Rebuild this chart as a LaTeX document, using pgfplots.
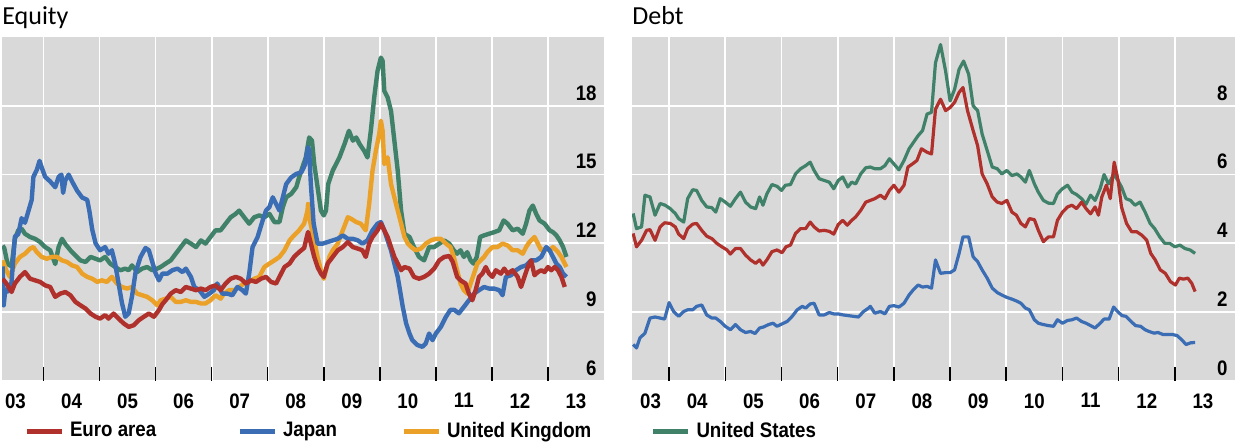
\documentclass[border=0pt]{standalone}
\usepackage{pgfplots}
\pgfplotsset{compat=1.18}
\usepackage{fontspec}
\setmainfont{Liberation Sans}
\newfontfamily\tickfont[FakeStretch=0.89]{Liberation Sans}
\newfontfamily\titlefont{Carlito}
\newcommand\tlfont{\tickfont\bfseries\fontsize{10.5}{12}\selectfont}
\definecolor{eured}{HTML}{B0302C}
\definecolor{jpblue}{HTML}{3B6DB4}
\definecolor{ukorange}{HTML}{EBA127}
\definecolor{usgreen}{HTML}{3F8169}
\definecolor{panelgrey}{HTML}{D9D9D9}
\pgfplotsset{
  panel/.style={
    scale only axis, height=172pt,
    axis background/.style={fill=panelgrey},
    axis line style={draw=none},
    xtick={2004,...,2013}, xticklabels={},
    xmajorgrids, ymajorgrids,
    grid style={white, line width=0.9pt},
    tick align=inside, xtick pos=left,
    major tick length=0pt,
    xtick style={draw=none},
    ytick style={draw=none},
    tick label style={font=\tlfont},
    xticklabel style={anchor=north, inner sep=0pt, yshift=-6pt},
    yticklabel pos=right,
    yticklabel style={anchor=south east, inner sep=0pt, xshift=-3.5pt, yshift=2.5pt},
    extra x tick style={grid=none, major tick length=0pt, tick style={draw=none}},
    every axis title/.style={at={(0,1)}, anchor=base west, yshift=6pt, inner sep=0pt, font=\titlefont\fontsize{13}{15}\selectfont},
  },
  eq/.style={line width=2.2pt, line join=round},
  dt/.style={line width=1.6pt, line join=round},
  yearticks/.style={ycomb, black, line width=0.8pt, no marks, forget plot},
}
\begin{document}
\begin{tikzpicture}
\begin{axis}[panel, at={(1pt,31.5pt)}, anchor=south west, width=301pt,
  xmin=2003.26, xmax=2014.0, ymin=6, ymax=21,
  ytick={6,9,12,15,18}, yticklabels={6,9,12,15,18},
  extra x ticks={2003.5,2004.5,2005.5,2006.5,2007.5,2008.5,2009.5,2010.5,2011.5,2012.5,2013.5},
  extra x tick labels={03,04,05,06,07,08,09,10,11,12,13},
  title={Equity},
  legend columns=4,
  legend style={at={(0,0)}, anchor=west, xshift=11pt, yshift=-25pt, draw=none, fill=none,
    inner sep=0pt, outer sep=0pt, column sep=0pt, row sep=0pt, font=\tlfont,
    nodes={inner sep=0pt, outer sep=0pt}},
  legend cell align=left,
  legend image code/.code={\draw[line width=2.5pt] (0pt,0pt) -- (17.5pt,0pt);},
]
\addlegendimage{eured}
\addlegendentry{\hspace{3pt}\makebox[83.5pt][l]{Euro area}}
\addlegendimage{jpblue}
\addlegendentry{\hspace{3pt}\makebox[59pt][l]{Japan}}
\addlegendimage{ukorange}
\addlegendentry{\hspace{3pt}\makebox[101.75pt][l]{United Kingdom}}
\addlegendimage{usgreen}
\addlegendentry{\hspace{3pt}United States}
% year tick marks at the bottom of the panel
\addplot[yearticks] coordinates {(2004,6.61)(2005,6.61)(2006,6.61)(2007,6.61)(2008,6.61)(2009,6.61)(2010,6.61)(2011,6.61)(2012,6.61)(2013,6.61)};
% United States
\addplot[eq, usgreen, forget plot] coordinates {
(2003.27,11.9)(2003.30,11.8)(2003.36,11.1)(2003.43,11.0)(2003.49,12.2)(2003.55,12.57)(2003.61,12.64)(2003.67,12.42)(2003.76,12.28)(2003.85,12.2)(2003.94,12.06)(2004.03,11.84)(2004.12,11.70)(2004.21,11.1)(2004.27,11.84)(2004.33,12.2)(2004.39,11.97)(2004.48,11.70)(2004.57,11.48)(2004.66,11.26)(2004.75,11.19)(2004.84,11.41)(2004.93,11.33)(2005.01,11.26)(2005.10,11.41)(2005.19,11.12)(2005.28,10.97)(2005.37,10.83)(2005.46,10.90)(2005.52,10.83)(2005.58,11.04)(2005.67,10.75)(2005.76,10.90)(2005.85,10.97)(2005.94,10.83)(2006.03,10.90)(2006.09,10.97)(2006.18,11.12)(2006.27,11.26)(2006.36,11.55)(2006.45,11.84)(2006.54,12.13)(2006.63,11.99)(2006.72,11.84)(2006.81,12.13)(2006.89,11.99)(2006.98,12.28)(2007.07,12.57)(2007.16,12.57)(2007.25,12.86)(2007.34,13.14)(2007.43,13.29)(2007.49,13.43)(2007.58,13.14)(2007.67,12.86)(2007.76,13.14)(2007.85,13.22)(2007.94,13.14)(2008.03,13.29)(2008.12,12.93)(2008.21,12.93)(2008.27,13.58)(2008.33,14.01)(2008.42,14.16)(2008.51,14.45)(2008.56,14.88)(2008.62,15.32)(2008.68,15.75)(2008.74,16.62)(2008.79,16.48)(2008.83,15.46)(2008.89,14.45)(2008.95,13.43)(2009.00,13.22)(2009.04,13.43)(2009.08,14.59)(2009.16,15.17)(2009.22,15.46)(2009.28,15.75)(2009.37,16.33)(2009.45,16.91)(2009.52,16.48)(2009.58,16.62)(2009.64,16.33)(2009.72,16.04)(2009.78,15.75)(2009.84,16.91)(2009.90,18.36)(2009.96,19.52)(2010.02,20.1)(2010.05,19.96)(2010.08,18.65)(2010.14,18.36)(2010.20,17.78)(2010.26,16.48)(2010.32,15.17)(2010.38,13.43)(2010.44,12.42)(2010.53,12.28)(2010.61,11.84)(2010.70,11.41)(2010.79,11.26)(2010.88,11.84)(2010.97,11.84)(2011.06,11.99)(2011.15,12.13)(2011.24,11.99)(2011.32,11.70)(2011.38,11.55)(2011.44,11.70)(2011.50,11.41)(2011.56,11.62)(2011.62,11.26)(2011.67,11.12)(2011.73,11.41)(2011.79,12.28)(2011.86,12.35)(2011.95,12.42)(2012.04,12.49)(2012.13,12.57)(2012.21,13.0)(2012.28,12.86)(2012.37,12.57)(2012.46,12.64)(2012.55,12.42)(2012.61,12.86)(2012.67,13.43)(2012.73,13.65)(2012.79,13.29)(2012.85,13.0)(2012.94,12.86)(2013.03,12.57)(2013.09,12.49)(2013.15,12.35)(2013.21,12.13)(2013.27,11.84)(2013.33,11.41)
};
% United Kingdom
\addplot[eq, ukorange, forget plot] coordinates {
(2003.27,11.26)(2003.34,10.8)(2003.40,10.54)(2003.49,11.12)(2003.58,11.41)(2003.67,11.55)(2003.76,11.77)(2003.82,11.84)(2003.88,11.62)(2003.97,11.41)(2004.06,11.33)(2004.15,11.41)(2004.24,11.41)(2004.33,11.26)(2004.42,11.19)(2004.51,11.04)(2004.60,10.97)(2004.69,10.68)(2004.78,10.54)(2004.87,10.46)(2004.96,10.32)(2005.04,10.39)(2005.13,10.32)(2005.22,10.54)(2005.31,10.25)(2005.40,10.10)(2005.49,10.03)(2005.58,10.10)(2005.67,9.81)(2005.76,9.74)(2005.85,9.67)(2005.94,9.52)(2006.03,9.30)(2006.09,9.52)(2006.18,9.59)(2006.27,9.67)(2006.36,9.45)(2006.45,9.45)(2006.54,9.52)(2006.63,9.45)(2006.72,9.45)(2006.81,9.38)(2006.89,9.38)(2006.98,9.52)(2007.07,9.74)(2007.16,9.59)(2007.22,9.81)(2007.31,9.96)(2007.40,9.96)(2007.49,10.10)(2007.58,10.25)(2007.67,10.32)(2007.76,10.46)(2007.85,10.54)(2007.94,10.97)(2008.03,11.12)(2008.12,11.26)(2008.21,11.41)(2008.30,11.70)(2008.39,12.13)(2008.47,12.35)(2008.56,12.57)(2008.65,12.86)(2008.71,13.43)(2008.72,13.72)(2008.74,13.14)(2008.79,12.57)(2008.83,12.13)(2008.89,11.41)(2008.95,10.83)(2009.00,10.46)(2009.04,10.83)(2009.10,11.41)(2009.16,11.70)(2009.25,11.99)(2009.34,12.57)(2009.43,13.14)(2009.49,13.07)(2009.58,12.93)(2009.66,12.86)(2009.75,12.57)(2009.81,13.72)(2009.87,15.17)(2009.93,16.04)(2009.99,16.77)(2010.02,17.35)(2010.05,16.91)(2010.08,15.46)(2010.14,15.75)(2010.20,14.59)(2010.26,14.01)(2010.32,13.43)(2010.38,12.86)(2010.44,12.28)(2010.50,11.99)(2010.56,11.84)(2010.64,11.70)(2010.73,11.77)(2010.82,11.99)(2010.91,12.13)(2011.00,12.20)(2011.09,12.20)(2011.18,11.99)(2011.26,11.84)(2011.32,11.41)(2011.38,10.83)(2011.44,10.25)(2011.50,9.96)(2011.56,9.81)(2011.62,10.25)(2011.68,10.68)(2011.74,11.12)(2011.80,11.26)(2011.86,11.41)(2011.92,11.62)(2012.01,11.84)(2012.10,11.84)(2012.19,11.99)(2012.28,11.91)(2012.37,11.70)(2012.46,11.70)(2012.55,11.55)(2012.61,11.84)(2012.67,12.06)(2012.76,12.28)(2012.82,11.99)(2012.88,11.70)(2012.97,11.77)(2013.03,11.70)(2013.09,11.84)(2013.18,11.62)(2013.24,11.41)(2013.33,10.97)
};
% Japan
\addplot[eq, jpblue, forget plot] coordinates {
(2003.27,11.0)(2003.29,9.3)(2003.32,10.0)(2003.36,9.9)(2003.43,10.3)(2003.49,12.3)(2003.55,12.4)(2003.61,13.1)(2003.67,12.9)(2003.73,13.4)(2003.79,13.9)(2003.82,14.9)(2003.88,15.2)(2003.93,15.6)(2003.97,15.3)(2004.03,14.9)(2004.12,14.7)(2004.21,14.45)(2004.27,14.9)(2004.32,15.0)(2004.35,14.2)(2004.39,14.75)(2004.45,15.0)(2004.51,14.7)(2004.60,14.3)(2004.69,14.0)(2004.78,13.9)(2004.82,13.4)(2004.87,12.6)(2004.93,12.0)(2005.01,11.7)(2005.10,11.84)(2005.16,11.55)(2005.22,11.7)(2005.28,11.1)(2005.34,10.25)(2005.40,9.4)(2005.46,8.8)(2005.52,8.95)(2005.58,9.7)(2005.64,10.7)(2005.73,11.4)(2005.82,11.8)(2005.88,11.7)(2005.94,11.2)(2006.00,10.7)(2006.06,10.39)(2006.12,10.68)(2006.21,10.68)(2006.30,10.83)(2006.39,10.90)(2006.48,10.75)(2006.54,10.90)(2006.63,10.54)(2006.69,10.10)(2006.78,9.96)(2006.87,9.67)(2006.96,9.81)(2007.04,9.96)(2007.10,10.25)(2007.19,9.81)(2007.28,9.81)(2007.37,9.74)(2007.46,10.10)(2007.55,9.96)(2007.61,9.81)(2007.67,10.68)(2007.73,11.84)(2007.82,12.28)(2007.91,13.0)(2007.97,13.43)(2008.03,13.58)(2008.09,14.01)(2008.15,13.72)(2008.21,13.43)(2008.27,14.01)(2008.33,14.59)(2008.42,14.88)(2008.51,15.03)(2008.60,15.10)(2008.66,15.40)(2008.72,16.19)(2008.74,16.04)(2008.77,14.59)(2008.82,12.86)(2008.89,11.99)(2008.98,11.99)(2009.07,12.06)(2009.16,12.13)(2009.25,12.20)(2009.34,12.35)(2009.43,12.20)(2009.52,12.20)(2009.61,12.13)(2009.69,11.99)(2009.78,12.13)(2009.87,12.57)(2009.96,12.86)(2010.02,12.93)(2010.08,12.57)(2010.14,12.13)(2010.20,11.70)(2010.26,11.12)(2010.32,10.54)(2010.36,9.96)(2010.41,9.23)(2010.47,8.51)(2010.53,8.07)(2010.58,7.78)(2010.67,7.57)(2010.76,7.49)(2010.82,7.64)(2010.88,8.07)(2010.94,7.78)(2011.00,8.07)(2011.09,8.36)(2011.18,8.80)(2011.26,9.10)(2011.33,9.10)(2011.41,8.95)(2011.50,9.23)(2011.59,9.52)(2011.68,9.81)(2011.77,9.96)(2011.86,10.10)(2011.95,10.03)(2012.04,10.03)(2012.13,9.96)(2012.19,9.74)(2012.25,10.54)(2012.34,10.61)(2012.43,10.83)(2012.52,10.97)(2012.61,11.04)(2012.70,11.26)(2012.79,11.26)(2012.88,11.41)(2012.97,11.84)(2013.03,11.70)(2013.09,11.41)(2013.15,11.12)(2013.21,10.97)(2013.27,10.68)(2013.33,10.54)
};
% Euro area
\addplot[eq, eured, forget plot] coordinates {
(2003.27,10.46)(2003.34,10.25)(2003.43,9.88)(2003.49,10.25)(2003.58,10.54)(2003.67,10.75)(2003.76,10.46)(2003.85,10.39)(2003.94,10.32)(2004.03,10.17)(2004.12,10.10)(2004.21,9.67)(2004.30,9.81)(2004.39,9.88)(2004.48,9.74)(2004.57,9.45)(2004.66,9.30)(2004.75,9.16)(2004.84,8.94)(2004.93,8.80)(2005.01,8.72)(2005.10,8.87)(2005.16,8.72)(2005.25,8.94)(2005.34,8.72)(2005.43,8.51)(2005.52,8.36)(2005.61,8.43)(2005.70,8.65)(2005.79,8.80)(2005.88,8.94)(2005.97,8.80)(2006.06,9.09)(2006.12,9.35)(2006.18,9.52)(2006.27,9.81)(2006.36,9.96)(2006.45,9.88)(2006.54,10.10)(2006.63,10.03)(2006.72,9.96)(2006.81,10.03)(2006.89,9.96)(2006.98,10.10)(2007.07,10.17)(2007.16,9.96)(2007.25,10.25)(2007.34,10.46)(2007.43,10.54)(2007.52,10.46)(2007.61,10.25)(2007.70,10.39)(2007.79,10.32)(2007.88,10.46)(2007.97,10.54)(2008.06,10.32)(2008.15,10.25)(2008.21,10.54)(2008.30,10.97)(2008.39,11.12)(2008.47,11.41)(2008.56,11.62)(2008.65,11.80)(2008.72,12.50)(2008.77,12.0)(2008.83,11.41)(2008.89,10.97)(2008.95,10.68)(2009.00,10.54)(2009.07,11.12)(2009.16,11.41)(2009.25,11.70)(2009.34,11.84)(2009.43,12.06)(2009.52,11.84)(2009.61,11.77)(2009.69,11.70)(2009.75,11.41)(2009.81,11.99)(2009.87,12.28)(2009.96,12.57)(2010.02,12.86)(2010.08,12.57)(2010.14,12.28)(2010.20,11.84)(2010.26,11.41)(2010.32,11.12)(2010.38,10.83)(2010.44,10.97)(2010.53,10.90)(2010.61,10.54)(2010.70,10.46)(2010.79,10.54)(2010.88,10.68)(2010.97,10.90)(2011.06,11.26)(2011.15,11.41)(2011.24,11.45)(2011.30,11.20)(2011.38,10.54)(2011.44,10.39)(2011.53,10.25)(2011.59,9.81)(2011.65,9.52)(2011.71,9.96)(2011.77,10.54)(2011.83,10.68)(2011.89,10.97)(2011.95,10.68)(2012.01,10.54)(2012.07,10.83)(2012.16,10.68)(2012.22,10.90)(2012.28,10.68)(2012.37,10.83)(2012.46,10.54)(2012.52,10.10)(2012.58,10.54)(2012.64,10.97)(2012.70,11.26)(2012.76,10.61)(2012.82,10.75)(2012.88,10.83)(2012.94,10.75)(2013.00,10.97)(2013.06,10.83)(2013.12,10.97)(2013.18,10.83)(2013.24,10.54)(2013.30,10.10)
};
\end{axis}
\begin{axis}[panel, at={(316pt,31.5pt)}, anchor=south west, width=301.5pt,
  xmin=2003.34, xmax=2014.07, ymin=0, ymax=10,
  ytick={0,2,4,6,8}, yticklabels={0,2,4,6,8},
  extra x ticks={2003.67,2004.5,2005.5,2006.5,2007.5,2008.5,2009.5,2010.5,2011.5,2012.5,2013.5},
  extra x tick labels={03,04,05,06,07,08,09,10,11,12,13},
  title={Debt},
]
\addplot[yearticks] coordinates {(2004,0.41)(2005,0.41)(2006,0.41)(2007,0.41)(2008,0.41)(2009,0.41)(2010,0.41)(2011,0.41)(2012,0.41)(2013,0.41)};
% United States
\addplot[dt, usgreen] coordinates {
(2003.36,4.87)(2003.42,4.43)(2003.51,4.48)(2003.57,5.40)(2003.66,5.35)(2003.75,4.82)(2003.84,5.16)(2003.93,5.11)(2004.02,5.01)(2004.11,4.87)(2004.17,4.72)(2004.26,4.62)(2004.33,5.30)(2004.42,5.56)(2004.49,5.54)(2004.58,5.25)(2004.67,5.06)(2004.76,5.04)(2004.83,4.91)(2004.91,5.30)(2005.00,5.20)(2005.09,5.08)(2005.18,5.30)(2005.27,5.49)(2005.36,5.20)(2005.45,5.06)(2005.54,5.01)(2005.61,5.35)(2005.67,5.11)(2005.74,5.44)(2005.83,5.71)(2005.92,5.66)(2006.00,5.54)(2006.07,5.69)(2006.16,5.71)(2006.25,6.02)(2006.34,6.17)(2006.43,6.26)(2006.51,6.36)(2006.58,6.12)(2006.67,5.88)(2006.76,5.83)(2006.85,5.78)(2006.93,5.59)(2007.01,5.83)(2007.09,5.93)(2007.18,5.64)(2007.25,5.78)(2007.32,5.73)(2007.41,6.02)(2007.50,6.20)(2007.58,6.22)(2007.66,6.17)(2007.76,6.17)(2007.84,6.26)(2007.92,6.46)(2008.00,6.31)(2008.09,6.14)(2008.18,6.41)(2008.27,6.75)(2008.35,6.94)(2008.43,7.13)(2008.51,7.28)(2008.59,7.76)(2008.67,7.81)(2008.74,9.25)(2008.83,9.78)(2008.92,9.01)(2009.00,8.14)(2009.08,8.48)(2009.16,9.06)(2009.24,9.30)(2009.33,8.92)(2009.41,8.00)(2009.49,7.86)(2009.57,7.18)(2009.66,6.70)(2009.75,6.22)(2009.84,6.17)(2009.92,6.02)(2010.01,6.12)(2010.10,5.97)(2010.19,6.02)(2010.26,5.93)(2010.34,5.78)(2010.41,6.12)(2010.50,5.73)(2010.57,5.49)(2010.66,5.25)(2010.75,5.17)(2010.84,5.16)(2010.91,5.44)(2011.00,5.59)(2011.09,5.69)(2011.17,5.49)(2011.25,5.42)(2011.34,5.30)(2011.42,5.14)(2011.50,5.40)(2011.58,5.25)(2011.67,5.59)(2011.74,6.00)(2011.82,5.73)(2011.91,6.00)(2011.98,5.85)(2012.05,5.64)(2012.13,5.30)(2012.21,5.25)(2012.29,5.11)(2012.38,5.20)(2012.47,4.91)(2012.56,4.58)(2012.64,4.43)(2012.73,4.19)(2012.82,4.00)(2012.91,4.00)(2013.00,3.90)(2013.09,3.95)(2013.18,3.85)(2013.27,3.81)(2013.36,3.71)
};
% Japan
\addplot[dt, jpblue] coordinates {
(2003.36,1.06)(2003.42,0.96)(2003.48,1.25)(2003.57,1.39)(2003.66,1.83)(2003.75,1.86)(2003.84,1.83)(2003.92,1.80)(2004.00,2.28)(2004.08,2.02)(2004.17,1.88)(2004.26,2.02)(2004.33,2.07)(2004.42,2.07)(2004.49,2.17)(2004.58,2.21)(2004.67,1.92)(2004.76,1.83)(2004.83,1.83)(2004.91,1.73)(2005.00,1.59)(2005.09,1.49)(2005.18,1.64)(2005.27,1.49)(2005.36,1.41)(2005.45,1.44)(2005.53,1.38)(2005.61,1.54)(2005.68,1.57)(2005.77,1.64)(2005.85,1.68)(2005.92,1.59)(2006.01,1.66)(2006.10,1.73)(2006.19,1.88)(2006.28,2.07)(2006.37,2.17)(2006.43,2.12)(2006.51,2.24)(2006.58,2.26)(2006.67,1.92)(2006.76,1.92)(2006.85,1.99)(2006.93,1.95)(2007.01,1.95)(2007.10,1.92)(2007.19,1.90)(2007.28,1.88)(2007.37,1.86)(2007.46,2.02)(2007.55,2.12)(2007.58,2.17)(2007.66,1.97)(2007.76,2.02)(2007.84,1.95)(2007.92,2.17)(2008.00,2.19)(2008.09,2.15)(2008.18,2.26)(2008.27,2.50)(2008.35,2.66)(2008.43,2.79)(2008.51,2.73)(2008.59,2.75)(2008.67,2.70)(2008.74,3.52)(2008.83,3.13)(2008.92,3.15)(2009.00,3.15)(2009.08,3.23)(2009.16,3.71)(2009.23,4.19)(2009.33,4.19)(2009.41,3.61)(2009.49,3.47)(2009.57,3.23)(2009.66,2.99)(2009.75,2.70)(2009.84,2.57)(2009.92,2.50)(2010.01,2.43)(2010.10,2.38)(2010.19,2.32)(2010.26,2.26)(2010.34,2.12)(2010.41,2.07)(2010.50,1.78)(2010.57,1.68)(2010.66,1.64)(2010.75,1.61)(2010.84,1.59)(2010.91,1.78)(2011.00,1.68)(2011.09,1.76)(2011.17,1.78)(2011.25,1.83)(2011.34,1.73)(2011.42,1.68)(2011.50,1.61)(2011.58,1.54)(2011.67,1.68)(2011.74,1.80)(2011.83,1.80)(2011.91,2.15)(2011.98,2.02)(2012.06,1.90)(2012.13,1.88)(2012.22,1.73)(2012.30,1.61)(2012.39,1.59)(2012.47,1.49)(2012.54,1.44)(2012.63,1.39)(2012.70,1.41)(2012.79,1.35)(2012.87,1.35)(2012.96,1.35)(2013.04,1.32)(2013.12,1.20)(2013.20,1.06)(2013.28,1.11)(2013.36,1.12)
};
% Euro area
\addplot[dt, eured] coordinates {
(2003.36,4.29)(2003.42,3.90)(2003.51,4.09)(2003.60,4.38)(2003.66,4.40)(2003.75,4.09)(2003.84,4.48)(2003.92,4.60)(2004.02,4.58)(2004.11,4.48)(2004.17,4.27)(2004.26,4.14)(2004.33,4.43)(2004.42,4.56)(2004.49,4.58)(2004.58,4.38)(2004.67,4.21)(2004.76,4.14)(2004.85,4.00)(2004.94,3.90)(2005.03,3.81)(2005.09,3.69)(2005.18,3.85)(2005.27,3.85)(2005.36,3.66)(2005.45,3.52)(2005.54,3.42)(2005.61,3.52)(2005.67,3.37)(2005.74,3.52)(2005.83,3.76)(2005.92,3.81)(2006.01,3.73)(2006.08,3.90)(2006.16,3.95)(2006.25,4.29)(2006.34,4.43)(2006.43,4.43)(2006.51,4.62)(2006.58,4.48)(2006.67,4.36)(2006.76,4.38)(2006.85,4.35)(2006.93,4.27)(2007.01,4.55)(2007.09,4.67)(2007.17,4.53)(2007.25,4.67)(2007.32,4.77)(2007.41,4.96)(2007.50,5.20)(2007.58,5.25)(2007.66,5.30)(2007.76,5.40)(2007.84,5.30)(2007.92,5.54)(2008.00,5.69)(2008.09,5.49)(2008.18,5.69)(2008.25,6.22)(2008.33,6.31)(2008.41,6.41)(2008.49,6.75)(2008.59,6.65)(2008.67,6.60)(2008.74,7.90)(2008.83,8.19)(2008.92,7.86)(2009.00,7.95)(2009.08,8.10)(2009.16,8.39)(2009.23,8.53)(2009.31,7.86)(2009.41,7.28)(2009.49,6.84)(2009.57,6.02)(2009.66,5.73)(2009.75,5.35)(2009.84,5.20)(2009.92,5.16)(2010.01,5.25)(2010.10,4.91)(2010.18,4.82)(2010.26,4.58)(2010.34,4.48)(2010.41,4.72)(2010.50,4.69)(2010.57,4.38)(2010.66,4.05)(2010.75,4.19)(2010.84,4.19)(2010.91,4.67)(2011.00,4.91)(2011.09,5.06)(2011.17,5.11)(2011.25,5.01)(2011.34,5.20)(2011.42,5.01)(2011.50,4.86)(2011.58,5.06)(2011.64,4.82)(2011.70,5.35)(2011.78,5.69)(2011.85,5.30)(2011.92,6.36)(2011.99,5.83)(2012.05,5.06)(2012.14,4.58)(2012.23,4.34)(2012.32,4.34)(2012.41,4.24)(2012.50,4.09)(2012.57,3.71)(2012.65,3.52)(2012.74,3.23)(2012.83,3.13)(2012.92,2.89)(2013.01,2.79)(2013.08,2.99)(2013.15,2.96)(2013.23,2.99)(2013.30,2.84)(2013.36,2.60)
};
\end{axis}
\pgfresetboundingbox
\path[use as bounding box] (0,0) rectangle (617.5pt,222pt);
\end{tikzpicture}
\end{document}
